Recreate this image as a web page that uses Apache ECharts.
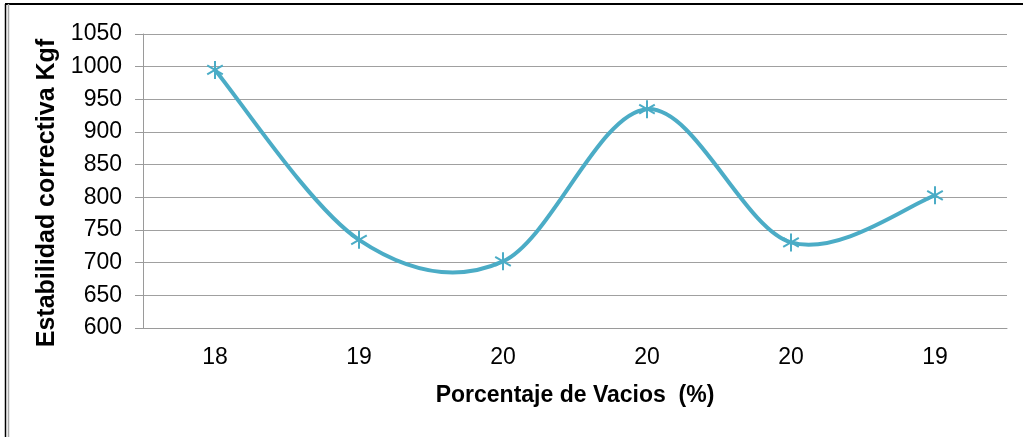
<!DOCTYPE html>
<html>
<head>
<meta charset="utf-8">
<script src="https://cdn.jsdelivr.net/npm/echarts@6/dist/echarts.min.js"></script>
<style>
  html, body { margin: 0; padding: 0; background: #fff; }
  #chart { width: 1023px; height: 437px; }
</style>
</head>
<body>
<div id="chart"></div>
<script>
// Porcentaje de vacíos vs. estabilidad corregida
const categories = ['18', '19', '20', '20', '20', '19'];
const estabilidad = [995, 735, 702, 935, 731, 803];
const yTicks = { min: 600, max: 1050, step: 50 };

const lineColor = '#4bacc6';
const font = 'Liberation Sans, Arial, sans-serif';

// Smoothed curve: each point draws the cubic segment to the next one
// (Catmull-Rom tangents) plus its asterisk marker.
function renderPoint(params, api) {
  const i = params.dataIndex;
  const n = estabilidad.length;
  const pt = k => api.coord([Math.max(0, Math.min(n - 1, k)), estabilidad[Math.max(0, Math.min(n - 1, k))]]);
  const children = [];
  if (i < n - 1) {
    const p0 = pt(i - 1), p1 = pt(i), p2 = pt(i + 1), p3 = pt(i + 2);
    const c1 = [p1[0] + (p2[0] - p0[0]) / 6, p1[1] + (p2[1] - p0[1]) / 6];
    const c2 = [p2[0] - (p3[0] - p1[0]) / 6, p2[1] - (p3[1] - p1[1]) / 6];
    children.push({
      type: 'bezierCurve',
      shape: { x1: p1[0], y1: p1[1], cpx1: c1[0], cpy1: c1[1], cpx2: c2[0], cpy2: c2[1], x2: p2[0], y2: p2[1] },
      style: { stroke: lineColor, lineWidth: 4, fill: null, lineCap: 'round' },
      z2: 1
    });
  }
  const c = pt(i);
  const arm = 9, dx = 7.8, dy = 4.5;
  const mark = { stroke: lineColor, lineWidth: 2, fill: null };
  children.push(
    { type: 'line', shape: { x1: c[0], y1: c[1] - arm, x2: c[0], y2: c[1] + arm }, style: mark, z2: 10 },
    { type: 'line', shape: { x1: c[0] - dx, y1: c[1] - dy, x2: c[0] + dx, y2: c[1] + dy }, style: mark, z2: 10 },
    { type: 'line', shape: { x1: c[0] - dx, y1: c[1] + dy, x2: c[0] + dx, y2: c[1] - dy }, style: mark, z2: 10 }
  );
  return { type: 'group', children };
}

const chart = echarts.init(document.getElementById('chart'), null, { renderer: 'canvas' });
chart.setOption({
  backgroundColor: '#ffffff',
  animation: false,
  grid: { left: 143, right: 16, top: 34, bottom: 109 },
  graphic: [
    { type: 'line', shape: { x1: 5, y1: 4, x2: 1023, y2: 4 }, style: { stroke: '#000', lineWidth: 2 } },
    { type: 'line', shape: { x1: 5.5, y1: 4, x2: 5.5, y2: 437 }, style: { stroke: '#000', lineWidth: 1.5 } },
    { type: 'line', shape: { x1: 8.5, y1: 4, x2: 8.5, y2: 437 }, style: { stroke: '#a8a8a8', lineWidth: 1.5 } },
    {
      type: 'text', x: 47, y: 193, rotation: Math.PI / 2,
      style: {
        text: 'Estabilidad correctiva Kgf', font: 'bold 25px ' + font,
        fill: '#000', textAlign: 'center', textVerticalAlign: 'middle'
      }
    }
  ],
  xAxis: {
    type: 'category',
    data: categories,
    boundaryGap: true,
    name: 'Porcentaje de Vacios  (%)',
    nameLocation: 'middle',
    nameGap: 56,
    nameTextStyle: { fontFamily: font, fontWeight: 'bold', fontSize: 23, color: '#000' },
    axisLine: { lineStyle: { color: '#9a9a9a', width: 1 } },
    axisTick: { show: false },
    axisLabel: { fontFamily: font, fontSize: 23, color: '#000', margin: 18 },
    splitLine: { show: false }
  },
  yAxis: {
    type: 'value',
    min: yTicks.min,
    max: yTicks.max,
    interval: yTicks.step,
    axisLine: { show: true, lineStyle: { color: '#9a9a9a', width: 1 } },
    axisTick: { show: true, length: 8, lineStyle: { color: '#9a9a9a' } },
    axisLabel: { fontFamily: font, fontSize: 23, color: '#000', margin: 21, formatter: v => String(v) },
    splitLine: { lineStyle: { color: '#a0a0a0', width: 1 } }
  },
  series: [{
    type: 'custom',
    data: estabilidad.map((v, i) => [i, v]),
    encode: { x: 0, y: 1 },
    renderItem: renderPoint,
    clip: false
  }]
});
</script>
</body>
</html>
